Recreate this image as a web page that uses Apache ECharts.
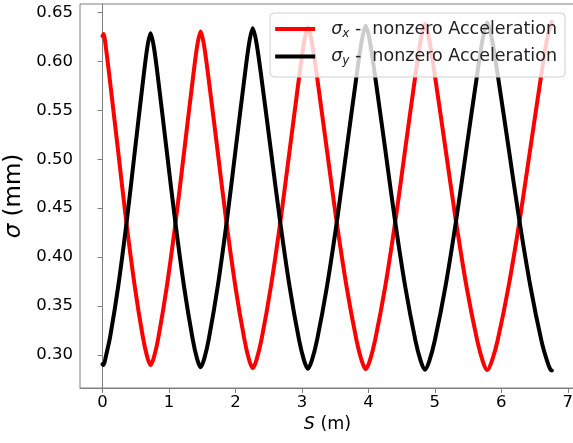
<!DOCTYPE html>
<html>
<head>
<meta charset="utf-8">
<script src="https://cdn.jsdelivr.net/npm/echarts@6/dist/echarts.min.js"></script>
<style>
html,body{margin:0;padding:0;background:#fff;}
#c{width:573px;height:443px;}
</style>
</head>
<body>
<div id="c"></div>
<script>
// sigma_x (red) samples: S (m)
const sxS = [0, 0.015, 0.055, 0.123, 0.239, 0.354, 0.484, 0.607, 0.672, 0.723,
  0.776, 0.843, 0.971, 1.107, 1.228, 1.348, 1.423, 1.476,
  1.531, 1.609, 1.735, 1.860, 2.001, 2.135, 2.205, 2.26,
  2.318, 2.393, 2.534, 2.683, 2.816, 2.949, 3.032, 3.09,
  3.151, 3.238, 3.377, 3.516, 3.673, 3.821, 3.899, 3.96,
  4.022, 4.102, 4.254, 4.414, 4.556, 4.699, 4.788, 4.85,
  4.916, 5.009, 5.160, 5.310, 5.478, 5.638, 5.722, 5.788,
  5.856, 5.944, 6.109, 6.284, 6.439, 6.595, 6.692, 6.76];
const sxV = [0.626, 0.628, 0.612, 0.5738, 0.5061, 0.4384, 0.3707, 0.3183, 0.298, 0.2895,
  0.2980, 0.3185, 0.3714, 0.4396, 0.5078, 0.5760, 0.6153, 0.6306,
  0.6151, 0.5755, 0.5067, 0.4378, 0.3690, 0.3157, 0.2950, 0.2864,
  0.2951, 0.3160, 0.3701, 0.4398, 0.5095, 0.5792, 0.6193, 0.6350,
  0.6193, 0.5791, 0.5091, 0.4392, 0.3693, 0.3151, 0.2941, 0.2854,
  0.2942, 0.3154, 0.3701, 0.4407, 0.5113, 0.5818, 0.6224, 0.6383,
  0.6224, 0.5817, 0.5109, 0.4401, 0.3693, 0.3145, 0.2932, 0.2844,
  0.2933, 0.3147, 0.3699, 0.4411, 0.5123, 0.5835, 0.6245, 0.6405];
// sigma_y (black) samples
const syS = [0, 0.015, 0.051, 0.116, 0.239, 0.369, 0.484, 0.600, 0.672, 0.723,
  0.776, 0.851, 0.971, 1.092, 1.228, 1.356, 1.423, 1.476,
  1.531, 1.601, 1.735, 1.876, 2.001, 2.127, 2.205, 2.26,
  2.318, 2.401, 2.534, 2.667, 2.816, 2.957, 3.032, 3.09,
  3.151, 3.229, 3.377, 3.534, 3.673, 3.812, 3.899, 3.96,
  4.022, 4.111, 4.254, 4.396, 4.556, 4.708, 4.788, 4.85,
  4.916, 5.000, 5.160, 5.328, 5.478, 5.629, 5.722, 5.788,
  5.856, 5.953, 6.109, 6.264, 6.439, 6.604, 6.692, 6.745, 6.76];
const syV = [0.2905, 0.2895, 0.2985, 0.3188, 0.3713, 0.4391, 0.5068, 0.5746, 0.6136, 0.6288,
  0.6134, 0.5742, 0.5059, 0.4376, 0.3693, 0.3164, 0.2959, 0.2874,
  0.2961, 0.3169, 0.3706, 0.4399, 0.5092, 0.5785, 0.6184, 0.6340,
  0.6183, 0.5783, 0.5086, 0.4390, 0.3693, 0.3153, 0.2944, 0.2857,
  0.2945, 0.3155, 0.3699, 0.4401, 0.5102, 0.5804, 0.6207, 0.6365,
  0.6207, 0.5802, 0.5099, 0.4395, 0.3691, 0.3146, 0.2935, 0.2847,
  0.2936, 0.3149, 0.3700, 0.4410, 0.5121, 0.5832, 0.6240, 0.6400,
  0.6240, 0.5831, 0.5119, 0.4407, 0.3695, 0.3143, 0.2930, 0.2843, 0.2841];
const xTicks = [0, 1, 2, 3, 4, 5, 6, 7];
const yTicks = [0.30, 0.35, 0.40, 0.45, 0.50, 0.55, 0.60, 0.65];
const seriesNames = ['sx', 'sy'];

const FONT = 'DejaVu Sans';
const chart = echarts.init(document.getElementById('c'));
const zip = (a, b) => a.map((v, i) => [v, b[i]]);
const spine = '#808080';
const rich = {
  i: {fontFamily: FONT, fontStyle: 'italic', fontSize: 17.5, color: '#222', padding: [0, 0, 0, 11]},
  s: {fontFamily: FONT, fontStyle: 'italic', fontSize: 12, color: '#222', padding: [9, 0, 0, 0]},
  t: {fontFamily: FONT, fontSize: 17.5, color: '#222'}
};
chart.setOption({
  animation: false,
  backgroundColor: '#fff',
  grid: {left: 80, top: 4, right: -2, bottom: 55, show: true, borderColor: spine, borderWidth: 1,
    containLabel: false, outerBoundsMode: 'none'},
  legend: {
    orient: 'vertical', right: 8, top: 13,
    backgroundColor: 'rgba(255,255,255,0.8)', borderColor: '#d0d0d0', borderWidth: 1, borderRadius: 4,
    padding: [6, 8, 10, 5], itemGap: 7, itemWidth: 40, itemHeight: 4, icon: 'rect',
    textStyle: {fontFamily: FONT, fontSize: 17.5, color: '#222', lineHeight: 20, rich: rich},
    formatter: function (n) {
      return n === 'sx' ? '{i|σ}{s|x}{t| -  nonzero Acceleration}' : '{i|σ}{s|y}{t| -  nonzero Acceleration}';
    },
    data: seriesNames
  },
  xAxis: {
    type: 'value', min: -0.3385, max: 7.1085,
    name: '{i|S} (m)', nameLocation: 'middle', nameGap: 24,
    nameTextStyle: {fontFamily: FONT, fontSize: 17.5, color: '#000', rich: {i: {fontFamily: FONT, fontStyle: 'italic', fontSize: 17.5, color: '#000'}}},
    axisLine: {show: true, lineStyle: {color: spine, width: 1}},
    axisTick: {show: true, length: 5, lineStyle: {color: spine}, customValues: xTicks},
    axisLabel: {fontFamily: FONT, fontSize: 16.5, color: '#000', margin: 6, customValues: xTicks, formatter: v => String(v)},
    splitLine: {show: false}
  },
  yAxis: {
    type: 'value', min: 0.2661, max: 0.6588,
    name: '{i|σ} (mm)', nameLocation: 'middle', nameGap: 50, nameRotate: 90,
    nameTextStyle: {fontFamily: FONT, fontSize: 23, color: '#000', rich: {i: {fontFamily: FONT, fontStyle: 'italic', fontSize: 23, color: '#000'}}},
    axisLine: {show: true, lineStyle: {color: spine, width: 1}},
    axisTick: {show: true, length: 5, lineStyle: {color: spine}, customValues: yTicks},
    axisLabel: {fontFamily: FONT, fontSize: 16.5, color: '#000', margin: 7, customValues: yTicks, formatter: v => v.toFixed(2)},
    splitLine: {show: false}
  },
  series: [
    {name: 'sx', type: 'line', data: zip(sxS, sxV), showSymbol: false, smooth: 0.3, color: '#ff0000',
      lineStyle: {width: 4, color: '#ff0000', cap: 'round', join: 'round'}, z: 2},
    {name: 'sy', type: 'line', data: zip(syS, syV), showSymbol: false, smooth: 0.3, color: '#000000',
      lineStyle: {width: 4, color: '#000000', cap: 'round', join: 'round'}, z: 3}
  ]
});
</script>
</body>
</html>
